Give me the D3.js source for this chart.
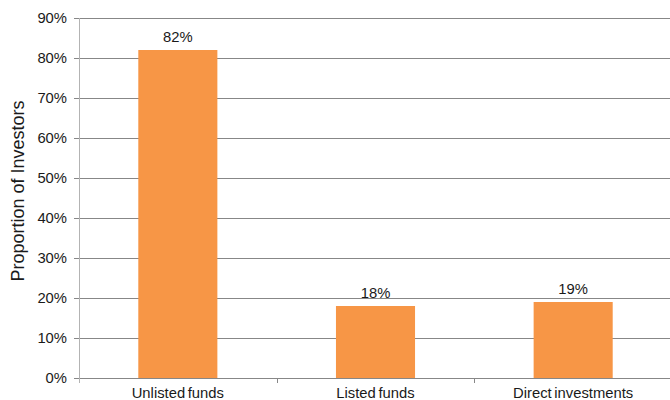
<!DOCTYPE html>
<html>
<head>
<meta charset="utf-8">
<script src="https://cdn.jsdelivr.net/npm/d3@7"></script>
<style>
  html, body { margin: 0; padding: 0; background: #fff; }
  svg { display: block; font-family: "Liberation Sans", Arial, sans-serif; }
</style>
</head>
<body>
<svg id="chart" width="670" height="400"></svg>
<script>
// Share of investors using each route
const categories = ["Unlisted funds", "Listed funds", "Direct investments"];
const values = [82, 18, 19];
const yTicks = [0, 10, 20, 30, 40, 50, 60, 70, 80, 90];
const yTitle = "Proportion of Investors";

const svg = d3.select("#chart");
const margin = { top: 18, right: -2, bottom: 22, left: 79 };
const W = 670, H = 400;
const innerW = W - margin.left - margin.right;
const innerH = H - margin.top - margin.bottom;
const fontSize = 14.8;

const g = svg.append("g").attr("transform", `translate(${margin.left},${margin.top})`);

const x = d3.scaleBand().domain(categories).range([0, innerW]).paddingInner(0.6).paddingOuter(0.3);
const y = d3.scaleLinear().domain([0, 90]).range([innerH, 0]);

// horizontal gridlines with short ticks on the left
g.selectAll("line.grid").data(yTicks).join("line")
  .attr("class", "grid")
  .attr("x1", -5).attr("x2", innerW)
  .attr("y1", d => Math.round(y(d)) + 0.5).attr("y2", d => Math.round(y(d)) + 0.5)
  .attr("stroke", "#878787").attr("stroke-width", 1);

// y axis line
g.append("line")
  .attr("x1", 0.5).attr("x2", 0.5)
  .attr("y1", 0).attr("y2", innerH + 5)
  .attr("stroke", "#b3b3b3").attr("stroke-width", 1);

// y tick labels
g.selectAll("text.ytick").data(yTicks).join("text")
  .attr("class", "ytick")
  .attr("x", -12).attr("y", d => y(d))
  .attr("dy", "0.35em")
  .attr("text-anchor", "end")
  .attr("font-size", fontSize)
  .attr("fill", "#1a1a1a")
  .text(d => d + "%");

// category separators on the baseline
g.selectAll("line.xtick").data(d3.range(1, categories.length)).join("line")
  .attr("class", "xtick")
  .attr("x1", i => Math.round(innerW * i / categories.length) + 0.5)
  .attr("x2", i => Math.round(innerW * i / categories.length) + 0.5)
  .attr("y1", innerH).attr("y2", innerH + 5)
  .attr("stroke", "#878787");

// bars
g.selectAll("rect.bar").data(values).join("rect")
  .attr("class", "bar")
  .attr("x", (d, i) => x(categories[i]))
  .attr("width", x.bandwidth())
  .attr("y", d => y(d))
  .attr("height", d => innerH - y(d))
  .attr("fill", "#f79646");

// value labels
g.selectAll("text.val").data(values).join("text")
  .attr("class", "val")
  .attr("x", (d, i) => x(categories[i]) + x.bandwidth() / 2)
  .attr("y", d => y(d) - 8)
  .attr("text-anchor", "middle")
  .attr("font-size", fontSize)
  .attr("fill", "#1a1a1a")
  .text(d => d + "%");

// category labels
g.selectAll("text.cat").data(categories).join("text")
  .attr("class", "cat")
  .attr("x", d => x(d) + x.bandwidth() / 2)
  .attr("y", innerH + 20)
  .attr("text-anchor", "middle")
  .attr("font-size", fontSize)
  .attr("word-spacing", -1.5)
  .attr("fill", "#1a1a1a")
  .text(d => d);

// y axis title
svg.append("text")
  .attr("transform", `translate(24, 191) rotate(-90)`)
  .attr("text-anchor", "middle")
  .attr("font-size", 18)
  .attr("fill", "#1a1a1a")
  .text(yTitle);
</script>
</body>
</html>
